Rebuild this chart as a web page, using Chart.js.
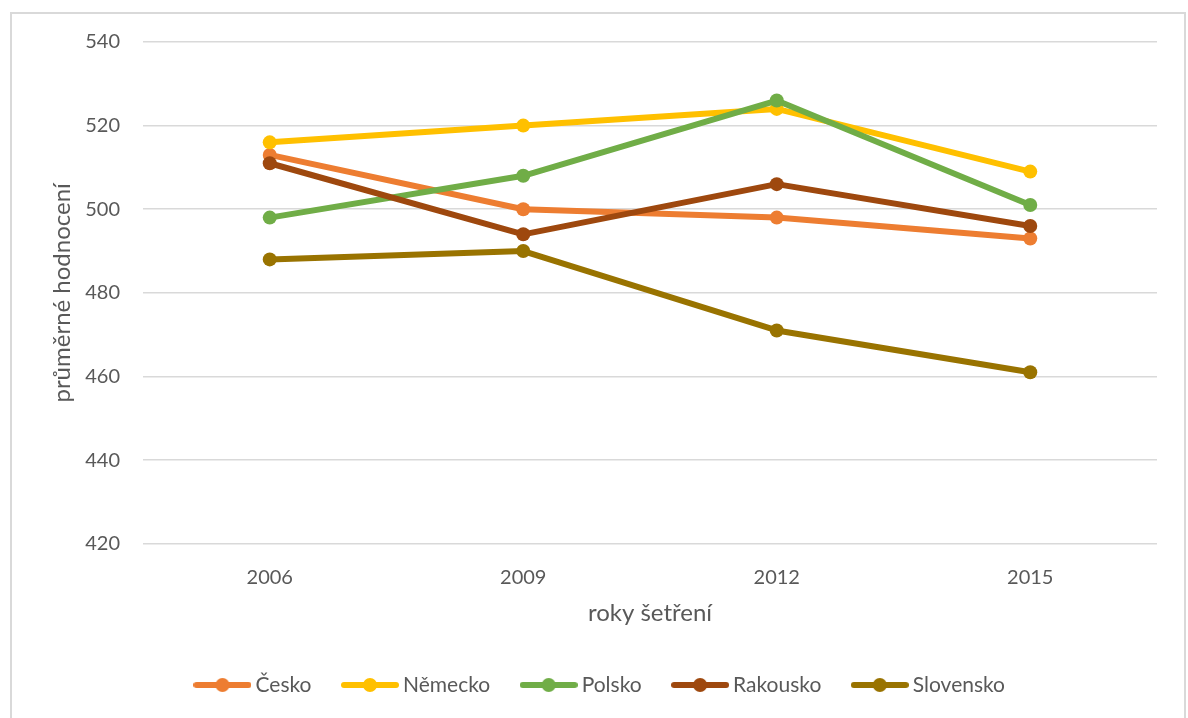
<!DOCTYPE html>
<html>
<head>
<meta charset="utf-8">
<script src="https://cdn.jsdelivr.net/npm/chart.js@4.4.0/dist/chart.umd.min.js"></script>
<style>
  html, body { margin: 0; padding: 0; background: #fff; }
  #wrap { position: relative; width: 1188px; height: 718px; overflow: hidden; }
  #frame { position: absolute; left: 10px; top: 12px; width: 1176px; height: 720px; border: 2px solid #d9d9d9; box-sizing: border-box; }
  canvas { position: absolute; left: 0; top: 0; }
</style>
</head>
<body>
<div id="wrap">
  <div id="frame"></div>
  <canvas id="c" width="1188" height="718"></canvas>
</div>
<script>
const years = ['2006', '2009', '2012', '2015'];
const seriesNames = ['Česko', 'Německo', 'Polsko', 'Rakousko', 'Slovensko'];
const cesko = [513, 500, 498, 493];
const nemecko = [516, 520, 524, 509];
const polsko = [498, 508, 526, 501];
const rakousko = [511, 494, 506, 496];
const slovensko = [488, 490, 471, 461];
const colors = ['#ED7D31', '#FFC000', '#70AD47', '#9E480E', '#997300'];
const yTitle = 'průměrné hodnocení';
const xTitle = 'roky šetření';

const values = [cesko, nemecko, polsko, rakousko, slovensko];
const FONT = 'Lato, "Open Sans", sans-serif';
const TEXT = '#595959';

function legendIcon(color) {
  const cv = document.createElement('canvas');
  cv.width = 58; cv.height = 16;
  const g = cv.getContext('2d');
  g.strokeStyle = color; g.lineWidth = 6; g.lineCap = 'round';
  g.beginPath(); g.moveTo(3, 8); g.lineTo(55, 8); g.stroke();
  g.fillStyle = color;
  g.beginPath(); g.arc(29, 8, 7, 0, Math.PI * 2); g.fill();
  return cv;
}

const datasets = seriesNames.map((n, i) => ({
  label: n,
  data: values[i],
  borderColor: colors[i],
  backgroundColor: colors[i],
  borderWidth: 6,
  borderJoinStyle: 'round',
  borderCapStyle: 'round',
  pointRadius: 7,
  pointHoverRadius: 7,
  pointBorderWidth: 0,
  pointBackgroundColor: colors[i],
  tension: 0,
  order: seriesNames.length - i,
  legendIcon: legendIcon(colors[i])
}));

new Chart(document.getElementById('c'), {
  type: 'line',
  data: { labels: years, datasets: datasets },
  options: {
    responsive: false,
    animation: false,
    devicePixelRatio: 1,
    layout: { padding: { left: 48, right: 31, top: 42, bottom: 12.5 } },
    plugins: {
      tooltip: { enabled: false },
      legend: {
        position: 'bottom',
        labels: {
          usePointStyle: true,
          pointStyleWidth: 45,
          padding: 36,
          color: TEXT,
          font: { family: FONT, size: 21 },
          sort: (a, b) => a.datasetIndex - b.datasetIndex,
          generateLabels: (chart) => chart.data.datasets.map((d, i) => ({
            text: d.label,
            fillStyle: d.borderColor,
            strokeStyle: d.borderColor,
            lineWidth: 0,
            pointStyle: d.legendIcon,
            hidden: false,
            datasetIndex: i,
            fontColor: TEXT
          }))
        }
      }
    },
    scales: {
      x: {
        offset: true,
        grid: { display: false, drawTicks: false },
        border: { display: false },
        ticks: { color: TEXT, font: { family: FONT, size: 20 }, padding: 22 },
        title: { display: true, text: xTitle, color: TEXT, font: { family: FONT, size: 24 }, padding: { top: 0, bottom: 11 } },
        afterFit: (s) => { s.height = 94.8; }
      },
      y: {
        min: 420, max: 540,
        ticks: { stepSize: 20, color: TEXT, font: { family: FONT, size: 20 }, padding: 23 },
        grid: { color: '#d9d9d9', lineWidth: 1.5, drawTicks: false },
        border: { display: false },
        title: { display: true, text: yTitle, color: TEXT, font: { family: FONT, size: 24 }, padding: 0 },
        afterFit: (s) => { s.width = 95; }
      }
    }
  }
});
</script>
</body>
</html>
